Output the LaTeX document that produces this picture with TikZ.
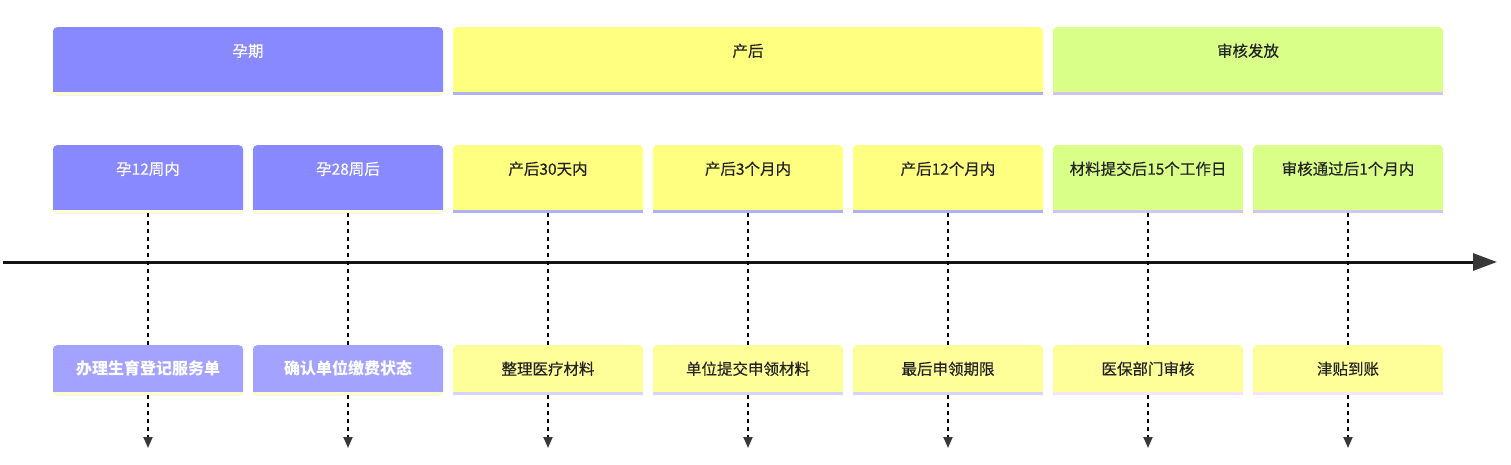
\documentclass[tikz,border=0pt]{standalone}
\usepackage{fontspec}
\setmainfont{Noto Sans CJK SC}
\newfontfamily\medfont[FakeBold=0.3]{Noto Sans CJK SC}
\usetikzlibrary{arrows.meta}
\definecolor{pur}{HTML}{8888FF}
\definecolor{purlt}{HTML}{A3A3FF}
\definecolor{yel}{HTML}{FFFF80}
\definecolor{yellt}{HTML}{FFFF99}
\definecolor{grn}{HTML}{D9FF88}
\definecolor{stY}{HTML}{FFFFC8}
\definecolor{stL}{HTML}{B0B0F8}
\definecolor{stL2}{HTML}{D4D4FF}
\definecolor{stG}{HTML}{D0C4F4}
\definecolor{stP}{HTML}{F4E4F8}
\definecolor{ink}{HTML}{222222}
\newcommand\cardbottom[3]{%
  \fill[#2] ([yshift=6pt]#1.south west) rectangle (#1.south east);
  \fill[#3] ([yshift=3pt]#1.south west) rectangle (#1.south east);}
\begin{document}
\begin{tikzpicture}[x=1pt,y=-1pt,
  card/.style={rectangle, inner sep=0pt, rounded corners=4pt, anchor=north,
    font=\medfont\fontsize{15.5}{17}\selectfont, text=ink},
  tall/.style={minimum width=#1, text height=29.5pt, text depth=38.5pt},
  short/.style={minimum width=#1, text height=29.5pt, text depth=20.5pt},
  boldtxt/.style={font=\fontsize{16}{18}\selectfont\bfseries, text=white},
  dline/.style={line width=2pt, draw=black, dash pattern=on 4pt off 4pt},
  dtip/.style={-{Triangle[length=11pt,width=9pt,color=ink!90]}}
]
\useasboundingbox (0,0) rectangle (1511,465);
% timeline
\coordinate (t0) at (3,262);
\coordinate (t1) at (1497,262);
\draw[line width=3pt, draw=black!92, -{Triangle[length=24pt,width=17pt,color=ink!90]}] (t0) -- (t1);
% top cards
\node[card, tall=390pt, fill=pur, text=white] (g1) at (248,27) {孕期};
\node[card, tall=590pt, fill=yel] (g2) at (748,27) {产后};
\node[card, tall=390pt, fill=grn] (g3) at (1248,27) {审核发放};
\cardbottom{g1}{pur}{stY}
\cardbottom{g2}{yel}{stL}
\cardbottom{g3}{grn}{stG}
% middle cards
\node[card, tall=190pt, fill=pur, text=white] (m1) at (148,145) {孕12周内};
\node[card, tall=190pt, fill=pur, text=white] (m2) at (348,145) {孕28周后};
\node[card, tall=190pt, fill=yel] (m3) at (548,145) {产后30天内};
\node[card, tall=190pt, fill=yel] (m4) at (748,145) {产后3个月内};
\node[card, tall=190pt, fill=yel] (m5) at (948,145) {产后12个月内};
\node[card, tall=190pt, fill=grn] (m6) at (1148,145) {材料提交后15个工作日};
\node[card, tall=190pt, fill=grn] (m7) at (1348,145) {审核通过后1个月内};
\cardbottom{m1}{pur}{stY}
\cardbottom{m2}{pur}{stY}
\cardbottom{m3}{yel}{stL}
\cardbottom{m4}{yel}{stL}
\cardbottom{m5}{yel}{stL}
\cardbottom{m6}{grn}{stG}
\cardbottom{m7}{grn}{stG}
% bottom cards
\node[card, short=190pt, fill=purlt, boldtxt] (b1) at (148,345) {办理生育登记服务单};
\node[card, short=190pt, fill=purlt, boldtxt] (b2) at (348,345) {确认单位缴费状态};
\node[card, short=190pt, fill=yellt] (b3) at (548,345) {整理医疗材料};
\node[card, short=190pt, fill=yellt] (b4) at (748,345) {单位提交申领材料};
\node[card, short=190pt, fill=yellt] (b5) at (948,345) {最后申领期限};
\node[card, short=190pt, fill=yellt] (b6) at (1148,345) {医保部门审核};
\node[card, short=190pt, fill=yellt] (b7) at (1348,345) {津贴到账};
\cardbottom{b1}{purlt}{stY}
\cardbottom{b2}{purlt}{stY}
\cardbottom{b3}{yellt}{stL2}
\cardbottom{b4}{yellt}{stL2}
\cardbottom{b5}{yellt}{stL2}
\cardbottom{b6}{yellt}{stP}
\cardbottom{b7}{yellt}{stP}
% connectors
\foreach \i/\x in {1/148,2/348,3/548,4/748,5/948,6/1148,7/1348}{
  \coordinate (e\i) at (\x,448);
  \draw[dline] (m\i.south) -- (b\i.north);
  \draw[dline, dtip] (b\i.south) -- (e\i);
}
\end{tikzpicture}
\end{document}
